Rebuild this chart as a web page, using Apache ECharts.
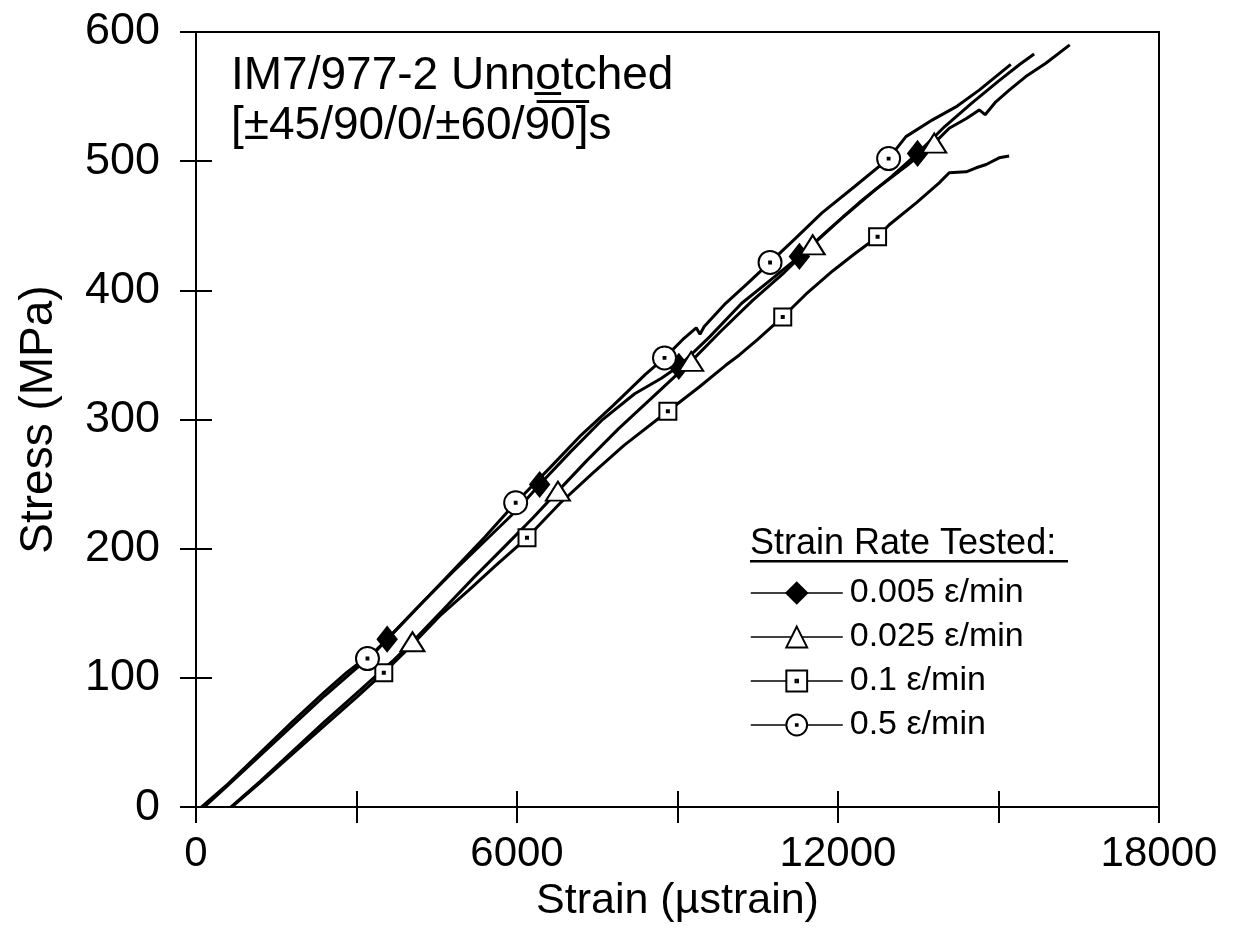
<!DOCTYPE html>
<html><head><meta charset="utf-8">
<script src="https://cdn.jsdelivr.net/npm/echarts@6/dist/echarts.min.js"></script>
<style>html,body{margin:0;padding:0;background:#fff}#c{width:1234px;height:928px}</style>
</head><body><div id="c"></div>
<script>
// Series names (strain rates)
const seriesNames = ['0.005 ε/min', '0.025 ε/min', '0.1 ε/min', '0.5 ε/min'];
// Axis ticks
const xTicks = [0, 3000, 6000, 9000, 12000, 15000, 18000];
const yTicks = [0, 100, 200, 300, 400, 500, 600];

// 0.005 e/min (filled diamond)
const curve005 = [[150,0],[600,17],[1200,40],[1800,63],[2400,86],[2900,104],[3300,118],[4200,157],[4800,182],[5400,206],[6000,230],[7000,275],[7600,300],[8200,320],[8700,332],[9600,364],[10200,390],[10800,410],[11800,446],[12400,468],[13000,488],[14000,527],[14500,545],[15000,562],[15400,575],[15666,583]];
const marks005 = [[3573,130],[6423,249.7],[9025,341.2],[11278,426.3],[13487,506]];

// 0.025 e/min (open triangle)
const curve025 = [[650,0],[1200,20],[1800,43],[2400,66],[3000,88],[3400,103],[3700,114],[4600,152],[5200,178],[5800,203],[6300,224],[7300,268],[7900,293],[8500,316],[9800,368],[10400,392],[11000,414],[12100,457],[12700,478],[13300,497],[14079,525.5],[14400,533],[14639,539.7],[14750,536],[14950,546],[15200,555],[15510,565.5],[15884,575.8],[16332,590]];
const marks025 = [[4046,128],[6765,244.6],[9255,345],[11527,435.3],[13799,514]];

// 0.1 e/min (open square)
const curve01 = [[666,0],[1200,19],[1800,41],[2400,63],[3000,85],[4000,124],[4556,148],[5100,168],[5600,187],[6800,235],[7400,258],[8000,280],[9400,325],[9900,342],[10157,350],[10500,362],[11400,397],[11900,415],[12300,428],[12958,450.8],[13463,467.7],[13892,483.2],[14079,491],[14396,491.8],[14583,494.9],[14770,497.4],[15012,502.6],[15199,504]];
const marks01 = [[3510,104],[6187,208.5],[8820,306.4],[10967,379.4],[12740,441.5]];

// 0.5 e/min (open circle)
const curve05 = [[100,0],[600,18],[1200,42],[1800,66],[2400,89],[2813,104],[3000,110],[3600,131],[4200,157],[4800,183],[5400,209],[6600,262],[7200,288],[7800,311],[8400,335],[9100,362],[9350,371],[9420,366],[9500,372],[9900,390],[10300,405],[11200,440],[11700,460],[12300,480],[13270,519],[13767,532],[14204,542],[14639,555],[15230,575]];
const marks05 = [[3205,115],[5975,235.6],[8757,347.7],[10730,421.6],[12946,502]];

function build(curve, marks) {
  const pts = curve.map(p => ({ value: p, symbol: 'none' })).concat(marks.map(p => ({ value: p })));
  pts.sort((a, b) => a.value[0] - b.value[0]);
  return pts;
}

const FONT = 'Liberation Sans';
const SQ = 'path://M0,0H10V10H0Z M4.4,4.4H5.6V5.6H4.4Z';
const CI = 'path://M0,5A5,5,0,1,1,10,5A5,5,0,1,1,0,5Z M4.6,4.6H5.4V5.4H4.6Z';

function lineSeries(name, curve, marks, symbol, size, fill) {
  return {
    name: name, type: 'line', data: build(curve, marks),
    symbol: symbol, symbolSize: size,
    itemStyle: { color: fill, borderColor: '#000', borderWidth: 2 },
    lineStyle: { color: '#000', width: 3 },
    emphasis: { disabled: true }, animation: false, z: 3
  };
}

const chart = echarts.init(document.getElementById('c'), null, { renderer: 'canvas' });
const axisCommon = { axisLine: { show: true, lineStyle: { color: '#000', width: 2 } }, splitLine: { show: false } };
chart.setOption({
  backgroundColor: '#fff',
  animation: false,
  textStyle: { fontFamily: FONT },
  grid: { left: 196, right: 75, top: 32, bottom: 120, show: true, borderColor: '#000', borderWidth: 2 },
  title: {
    text: 'IM7/977-2 Unno\u0332tched\n[±45/90/0/±60/9\u03050\u0305]s',
    left: 226, top: 46,
    textStyle: { fontFamily: FONT, fontSize: 46, lineHeight: 50, fontWeight: 'normal', color: '#000' }
  },
  xAxis: [{
    type: 'value', min: xTicks[0], max: xTicks[xTicks.length - 1], interval: xTicks[1] - xTicks[0],
    position: 'bottom',
    name: 'Strain (\u00b5strain)', nameLocation: 'middle', nameGap: 56,
    nameTextStyle: { fontFamily: FONT, fontSize: 43, color: '#000' },
    axisTick: { show: true, inside: false, length: 16, lineStyle: { color: '#000', width: 2 } },
    axisLabel: { margin: 26, fontFamily: FONT, fontSize: 42, color: '#000', formatter: v => (v % 6000 === 0 ? String(v) : '') },
    ...axisCommon
  }, {
    type: 'value', min: xTicks[0], max: xTicks[xTicks.length - 1], interval: xTicks[1] - xTicks[0],
    position: 'bottom', axisLine: { show: false }, axisLabel: { show: false }, splitLine: { show: false },
    axisTick: { show: true, inside: true, length: 16, lineStyle: { color: '#000', width: 2 } }
  }],
  yAxis: [{
    type: 'value', min: yTicks[0], max: yTicks[yTicks.length - 1], interval: yTicks[1] - yTicks[0],
    position: 'left',
    name: 'Stress (MPa)', nameLocation: 'middle', nameGap: 134, nameRotate: 90,
    nameTextStyle: { fontFamily: FONT, fontSize: 46, color: '#000' },
    axisTick: { show: true, inside: false, length: 16, lineStyle: { color: '#000', width: 2 } },
    axisLabel: { margin: 36, fontFamily: FONT, fontSize: 45, color: '#000' },
    ...axisCommon
  }, {
    type: 'value', min: yTicks[0], max: yTicks[yTicks.length - 1], interval: yTicks[1] - yTicks[0],
    position: 'left', axisLine: { show: false }, axisLabel: { show: false }, splitLine: { show: false },
    axisTick: { show: true, inside: true, length: 16, lineStyle: { color: '#000', width: 2 } }
  }],
  legend: {
    data: seriesNames, orient: 'vertical', left: 745, top: 571,
    itemWidth: 92, itemHeight: 26, itemGap: 10, selectedMode: false,
    lineStyle: { width: 1.5, color: '#000' },
    textStyle: { fontFamily: FONT, fontSize: 34, color: '#000', padding: [0, 0, 0, 2] }
  },
  graphic: [
    { type: 'text', left: 750, top: 526, style: { text: 'Strain Rate Tested:', font: '36px "Liberation Sans"', fill: '#000' } },
    { type: 'rect', left: 750, top: 560, shape: { width: 318, height: 2.5 }, style: { fill: '#000' } }
  ],
  series: [
    lineSeries(seriesNames[0], curve005, marks005, 'diamond', [19, 24], '#000'),
    lineSeries(seriesNames[1], curve025, marks025, 'triangle', [24, 19], '#fff'),
    lineSeries(seriesNames[2], curve01, marks01, SQ, 17, '#fff'),
    lineSeries(seriesNames[3], curve05, marks05, CI, 23, '#fff')
  ]
});
</script></body></html>
